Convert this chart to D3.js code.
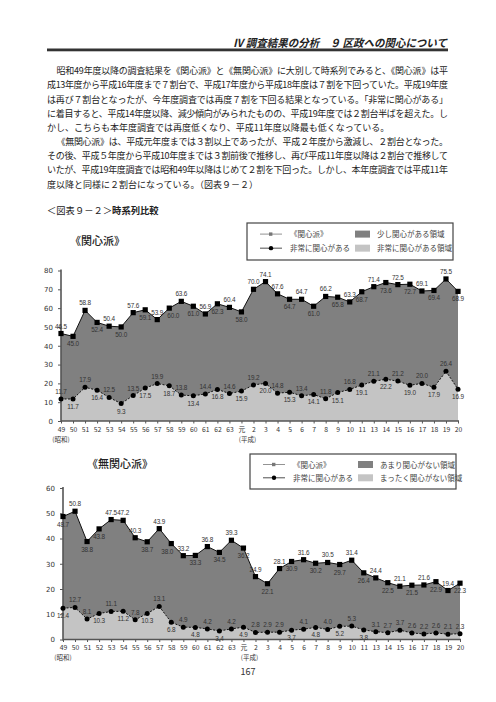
<!DOCTYPE html>
<html><head><meta charset="utf-8">
<script src="https://cdn.jsdelivr.net/npm/d3@7"></script>
<style>
body{margin:0;background:#fff;}
svg{display:block;font-family:"Noto Sans CJK JP","Noto Sans",sans-serif;}
</style></head>
<body>
<svg id="c" width="496" height="702"></svg>
<script>
// ---------- data ----------
const categories = ["49","50","51","52","53","54","55","56","57","58","59","60","61","62","63","元","2","3","4","5","6","7","8","9","10","11","13","14","15","16","17","18","19","20"];
const kanshinTotal = [46.5,45.0,58.8,52.4,50.4,50.0,57.6,59.1,53.9,60.0,63.6,61.0,56.9,62.3,60.4,58.0,70.0,74.1,67.6,64.7,64.7,61.0,66.2,65.8,63.3,68.7,71.4,73.6,72.5,72.7,69.1,69.4,75.5,68.9];
const hijouKanshin = [11.7,11.7,17.9,16.4,12.5,9.3,13.5,17.5,19.9,18.7,13.8,13.4,14.4,16.8,14.6,15.9,19.2,20.0,14.8,15.3,13.4,14.1,11.8,15.1,16.8,19.1,21.1,22.2,21.2,19.0,20.0,17.9,26.4,16.9];
const mukanshinTotal = [48.7,50.8,38.8,43.8,47.5,47.2,40.3,38.7,43.9,38.0,33.2,33.3,36.8,34.5,39.3,36.2,24.9,22.1,28.1,30.9,31.6,30.2,30.5,29.7,31.4,26.4,24.4,22.5,21.1,21.5,21.6,22.9,19.4,22.3];
const mattakuNashi = [12.4,12.7,8.1,10.3,11.1,11.2,7.8,10.3,13.1,6.8,4.9,4.8,4.2,3.4,4.2,4.9,2.8,2.9,2.9,3.7,4.1,4.8,4.0,5.2,5.3,3.8,3.1,2.7,3.7,2.6,2.2,2.6,2.1,2.3];
const yTicks1 = [0,10,20,30,40,50,60,70,80];
const yTicks2 = [0,10,20,30,40,50,60];
const eraLabels = ["(昭和)","(平成)"];

// label side layout (a = above, b = below, L/R = below shifted left/right)
const side1Top = "ababababaRababab" + "aaa" + "bababababababab";
const side1Bot = "ab".repeat(17);
const side2Top = "babbaaabaL" + "ab".repeat(12);
const side2Bot = "baab" + "abababababab" + "aaa" + "bababab" + "aaaaaaaa";

const bodyLines = [
 {t:"昭和49年度以降の調査結果を《関心派》と《無関心派》に大別して時系列でみると、《関心派》は平", ind:true, j:true},
 {t:"成13年度から平成16年度まで７割台で、平成17年度から平成18年度は７割を下回っていた。平成19年度", ind:false, j:true},
 {t:"は再び７割台となったが、今年度調査では再度７割を下回る結果となっている。「非常に関心がある」", ind:false, j:true},
 {t:"に着目すると、平成14年度以降、減少傾向がみられたものの、平成19年度では２割台半ばを超えた。し", ind:false, j:true},
 {t:"かし、こちらも本年度調査では再度低くなり、平成11年度以降最も低くなっている。", ind:false, j:false},
 {t:"《無関心派》は、平成元年度までは３割以上であったが、平成２年度から激減し、２割台となった。", ind:true, j:true},
 {t:"その後、平成５年度から平成10年度までは３割前後で推移し、再び平成11年度以降は２割台で推移して", ind:false, j:true},
 {t:"いたが、平成19年度調査では昭和49年以降はじめて２割を下回った。しかし、本年度調査では平成11年", ind:false, j:true},
 {t:"度以降と同様に２割台になっている。（図表９－２）", ind:false, j:false}
];

const svg = d3.select("#c");
svg.append("rect").attr("width",496).attr("height",702).attr("fill","#fff");

// header
svg.append("text").attr("x",233).attr("y",46.5)
  .attr("font-size",11).attr("font-weight",700).attr("font-style","italic").attr("fill","#222")
  .attr("textLength",214).attr("lengthAdjust","spacingAndGlyphs")
  .text("Ⅳ 調査結果の分析　９ 区政への関心について");
svg.append("rect").attr("x",47).attr("y",48.5).attr("width",401).attr("height",2.8).attr("fill","#333");

// body text
const L=47, R=448;
bodyLines.forEach((ln,i)=>{
  const x0 = ln.ind ? L+9.5 : L;
  const t = svg.append("text").attr("x",x0).attr("y",74.3+i*14.15)
    .attr("font-size",9).attr("fill","#222").text(ln.t);
  if(ln.j) t.attr("textLength",R-x0).attr("lengthAdjust","spacing");
});
const ft = svg.append("text").attr("x",L).attr("y",213.5).attr("font-size",9.3).attr("fill","#222");
ft.append("tspan").text("＜図表９－２＞");
ft.append("tspan").attr("font-weight",700).text("時系列比較");

// chart builder
function drawChart(o){
  const g = svg.append("g");
  const x = d3.scalePoint().domain(categories).range([o.x0,o.x1]);
  const y = d3.scaleLinear().domain([0,o.ymax]).range([o.yb,o.yt]);
  const idx = d3.range(categories.length);
  const dark = d3.area().x(i=>x(categories[i])).y0(y(0)).y1(i=>y(o.top[i]));
  const light = d3.area().x(i=>x(categories[i])).y0(y(0)).y1(i=>y(o.bot[i]));
  g.append("path").attr("d",dark(idx)).attr("fill","#808080");
  g.append("path").attr("d",light(idx)).attr("fill","#c4c4c4");
  const lineT = d3.line().x(i=>x(categories[i])).y(i=>y(o.top[i]));
  const lineB = d3.line().x(i=>x(categories[i])).y(i=>y(o.bot[i]));
  g.append("path").attr("d",lineT(idx)).attr("fill","none").attr("stroke","#111").attr("stroke-width",1);
  g.append("path").attr("d",lineB(idx)).attr("fill","none").attr("stroke","#111").attr("stroke-width",1).attr("stroke-dasharray","2,1.5");
  // axes
  const ya = g.append("g").attr("transform",`translate(${o.x0},0)`)
    .call(d3.axisLeft(y).tickValues(o.yTicks).tickSize(3).tickPadding(5).tickFormat(d3.format("d")));
  ya.select(".domain").remove();
  ya.selectAll("line").attr("stroke","#555");
  ya.selectAll("text").attr("font-size",7).attr("fill","#333").attr("font-family","'DejaVu Sans',sans-serif");
  g.append("line").attr("x1",o.x0).attr("x2",o.x0).attr("y1",y(o.ymax)-1).attr("y2",y(0)+1)
    .attr("stroke","#555").attr("stroke-width",1.6);
  const xa = g.append("g").attr("transform",`translate(0,${y(0)})`)
    .call(d3.axisBottom(x).tickSize(2.5).tickPadding(o.tp));
  xa.select(".domain").remove();
  xa.selectAll("line").attr("stroke","#555");
  xa.selectAll("text").attr("font-size",6.8).attr("fill","#333").attr("font-family","'Noto Sans CJK JP',sans-serif");
  g.append("line").attr("x1",o.x0).attr("x2",o.x1+1).attr("y1",y(0)).attr("y2",y(0))
    .attr("stroke","#555").attr("stroke-width",1.4);
  g.append("text").attr("x",x("49")).attr("y",y(0)+o.eraDy).attr("text-anchor","middle")
    .attr("font-size",6.5).attr("fill","#333").text(eraLabels[0]);
  g.append("text").attr("x",(x("元")+x("2"))/2).attr("y",y(0)+o.eraDy).attr("text-anchor","middle")
    .attr("font-size",6.5).attr("fill","#333").text(eraLabels[1]);
  // markers
  g.selectAll(".sq").data(idx).join("rect")
    .attr("x",i=>x(categories[i])-2.6).attr("y",i=>y(o.top[i])-2.6)
    .attr("width",5.2).attr("height",5.2).attr("fill","#000");
  g.selectAll(".ci").data(idx).join("circle")
    .attr("cx",i=>x(categories[i])).attr("cy",i=>y(o.bot[i])).attr("r",2.5).attr("fill","#000");
  // labels
  const dx = {a:0,b:0,L:-4,R:4};
  const lab = (vals,sides)=>{
    g.append("g").selectAll("text").data(idx).join("text")
      .attr("x",i=>x(categories[i]) + dx[sides[i]])
      .attr("y",i=>y(vals[i]) + (sides[i]==="a" ? -5 : 10))
      .attr("text-anchor","middle").attr("font-size",6.4).attr("letter-spacing",-0.15).attr("fill","#333")
      .attr("font-family","'Liberation Sans',Arial,sans-serif")
      .text(i=>d3.format(".1f")(vals[i]));
  };
  lab(o.top,o.sTop); lab(o.bot,o.sBot);
  // title
  svg.append("text").attr("x",o.tx).attr("y",o.ty).attr("font-size",11).attr("font-weight",500)
    .attr("fill","#222").text(o.title);
  // legend
  const lg = svg.append("g").attr("transform",`translate(${o.lx},${o.ly})`);
  lg.append("rect").attr("width",o.lw).attr("height",o.lh).attr("fill","#fff").attr("stroke","#444").attr("stroke-width",1.2);
  const r1 = o.lh*0.3, r2 = o.lh*0.68;
  lg.append("line").attr("x1",13).attr("x2",35).attr("y1",r1).attr("y2",r1).attr("stroke","#777").attr("stroke-width",0.8);
  lg.append("rect").attr("x",22).attr("y",r1-1.7).attr("width",3.4).attr("height",3.4).attr("fill","#777");
  lg.append("line").attr("x1",13).attr("x2",35).attr("y1",r2).attr("y2",r2).attr("stroke","#222").attr("stroke-width",0.8);
  lg.append("circle").attr("cx",24).attr("cy",r2).attr("r",2.2).attr("fill","#000");
  lg.append("text").attr("x",43).attr("y",r1+3).attr("font-size",7.5).attr("fill","#444").text(o.leg[0]);
  lg.append("text").attr("x",43).attr("y",r2+3).attr("font-size",7.5).attr("fill","#444").text(o.leg[1]);
  lg.append("rect").attr("x",108).attr("y",r1-3.5).attr("width",15).attr("height",7).attr("fill","#808080");
  lg.append("rect").attr("x",108).attr("y",r2-3.5).attr("width",15).attr("height",7).attr("fill","#c4c4c4");
  lg.append("text").attr("x",130).attr("y",r1+3).attr("font-size",7.5).attr("fill","#444").text(o.leg[2]);
  lg.append("text").attr("x",130).attr("y",r2+3).attr("font-size",7.5).attr("fill","#444").text(o.leg[3]);
}

drawChart({x0:61,x1:458,yb:421,yt:270.5,ymax:80,yTicks:yTicks1,top:kanshinTotal,bot:hijouKanshin,
  sTop:side1Top,sBot:side1Bot,title:"《関心派》",tx:70,ty:245,tp:4,eraDy:21,
  lx:247,ly:223,lw:206,lh:37,leg:["《関心派》","非常に関心がある","少し関心がある領域","非常に関心がある領域"]});
drawChart({x0:63,x1:460,yb:639.5,yt:488,ymax:60,yTicks:yTicks2,top:mukanshinTotal,bot:mattakuNashi,
  sTop:side2Top,sBot:side2Bot,title:"《無関心派》",tx:87,ty:468,tp:3.5,eraDy:20,
  lx:250,ly:454,lw:206,lh:35,leg:["《関心派》","非常に関心がある","あまり関心がない領域","まったく関心がない領域"]});

svg.append("text").attr("x",248).attr("y",675).attr("text-anchor","middle").attr("font-size",9).attr("fill","#333").text("167");
</script>
</body></html>
